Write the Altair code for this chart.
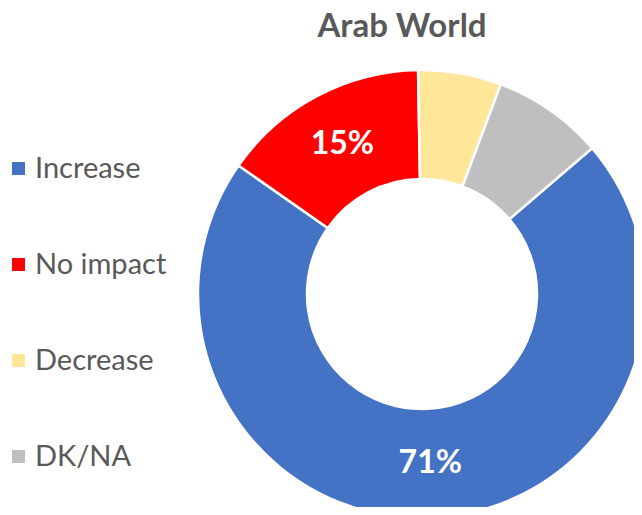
import math
import altair as alt
import pandas as pd

categories = ["Increase", "No impact", "Decrease", "DK/NA"]
values = [71, 15, 6, 8]
labels = ["71%", "15%", "", ""]
colors = ["#4472C4", "#FF0000", "#FFE699", "#BFBFBF"]
title_text = "Arab World"

df = pd.DataFrame({
    "category": categories,
    "value": values,
    "label": labels,
    "order": list(range(len(categories))),
})

start = math.radians(49.4)
theta_scale = alt.Scale(domain=[0, 100], range=[start, start + 2 * math.pi])
color_scale = alt.Scale(domain=categories, range=colors)

cx, cy = 414, 286

base = alt.Chart(df)

arcs = base.mark_arc(outerRadius=224, innerRadius=115, stroke="white", strokeWidth=2.5).encode(
    theta=alt.Theta("value:Q", stack=True, scale=theta_scale),
    order=alt.Order("order:Q", sort="ascending"),
    color=alt.Color(
        "category:N",
        scale=color_scale,
        sort=categories,
        legend=alt.Legend(
            title=None,
            orient="none",
            legendX=-4,
            legendY=146,
            symbolType="square",
            symbolSize=170,
            symbolStrokeWidth=0,
            labelFont="Lato",
            labelFontSize=29,
            labelColor="#595959",
            labelOffset=2,
            rowPadding=66,
        ),
    ),
    x=alt.value(cx),
    y=alt.value(cy),
)

text = base.mark_text(radius=169.5, font="Lato", fontWeight="bold", fontSize=32, color="white").encode(
    theta=alt.Theta("value:Q", stack=True, scale=theta_scale),
    order=alt.Order("order:Q", sort="ascending"),
    text="label:N",
    x=alt.value(cx),
    y=alt.value(cy),
)

title = alt.Chart(pd.DataFrame({"t": [title_text]})).mark_text(
    font="Lato", fontWeight="bold", fontSize=33, color="#595959", baseline="alphabetic"
).encode(text="t:N", x=alt.value(394), y=alt.value(29))

chart = alt.layer(arcs, text, title).properties(
    width=626, height=499, autosize=alt.AutoSizeParams(type="none"), padding=0
).configure_view(stroke=None)

chart.save("out.html", embed_options={"renderer": "svg", "actions": False})
